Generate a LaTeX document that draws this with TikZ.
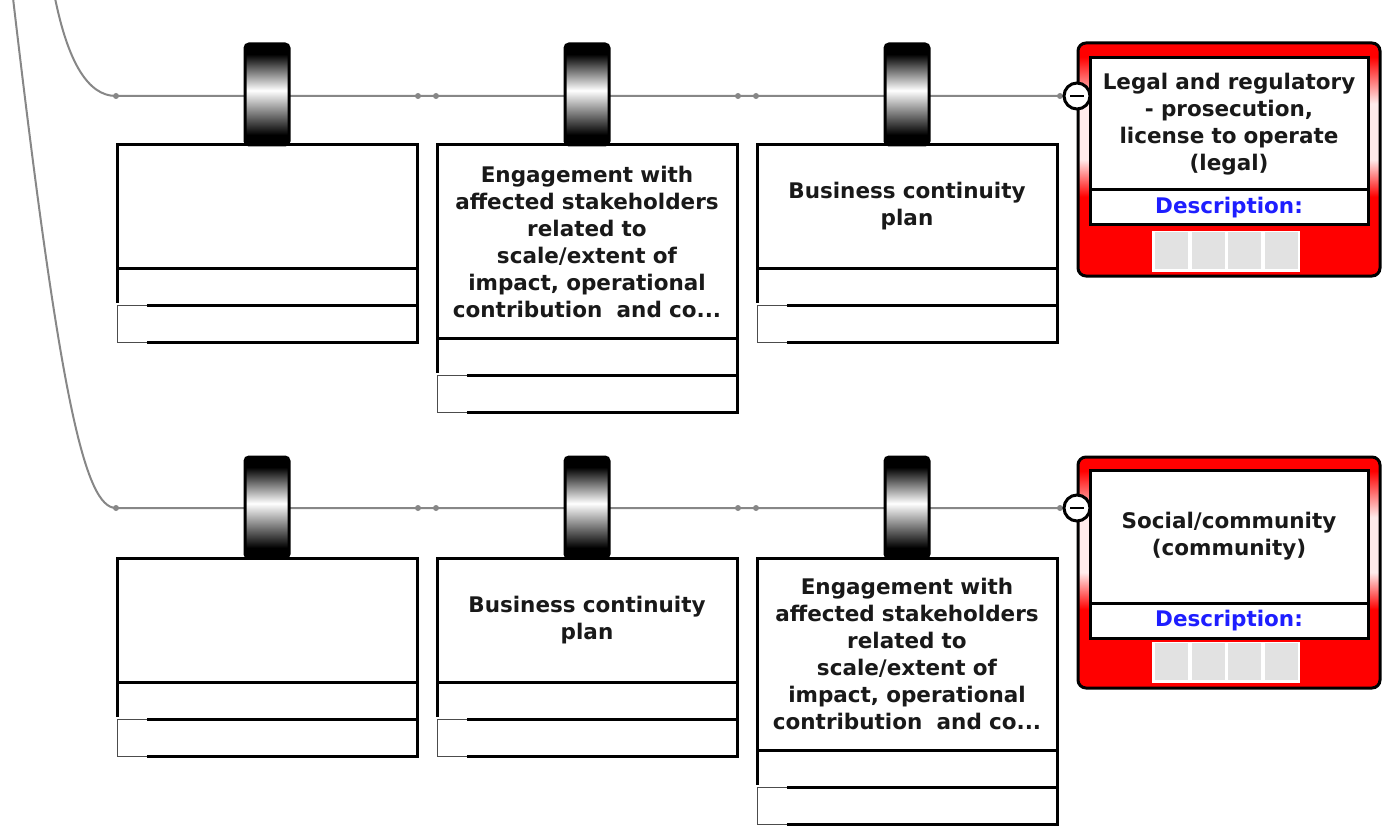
\documentclass[tikz,border=0pt]{standalone}
\usepackage{fontspec}
\setmainfont{DejaVu Sans}
\usetikzlibrary{positioning}
\definecolor{wiregrey}{RGB}{135,135,135}
\definecolor{cellgrey}{RGB}{226,226,226}
\definecolor{descblue}{RGB}{30,30,255}
\pgfdeclareverticalshading{redcard}{100bp}{color(0bp)=(red); color(25bp)=(red); color(42bp)=(red); color(50bp)=(red!8); color(62bp)=(red!8); color(72bp)=(red); color(100bp)=(red)}
\pgfdeclareverticalshading{padshade}{100bp}{color(0bp)=(black); color(30bp)=(black); color(52bp)=(white); color(70bp)=(black); color(100bp)=(black)}

\begin{document}
\begin{tikzpicture}[x=1pt,y=-1pt,
  wire/.style={draw=wiregrey,line width=2pt},
  knot/.style={circle,fill=wiregrey,inner sep=0pt,minimum size=6pt},
  card/.style={draw,line width=3pt,fill=white,outer sep=0pt,inner sep=0pt,
    minimum width=300pt,text width=296pt,align=center,text=black!90,
    font=\bfseries\fontsize{21.5}{27}\selectfont},
  strip/.style={draw,line width=3pt,fill=white,outer sep=0pt,
    minimum width=300pt,minimum height=37pt},
  tabline/.style={draw=black!70,line width=1pt,
    preaction={draw=white,line width=3.6pt}},
  pad/.style={draw,line width=3pt,rounded corners=4pt,shade,shading=padshade},
  minus/.style={circle,draw,line width=3pt,fill=white,minimum size=26pt,inner sep=0pt,
    path picture={\draw[line width=2.8pt] ([xshift=-7pt]path picture bounding box.center)
      -- ([xshift=7pt]path picture bounding box.center);}},
  risk/.style={draw,line width=3pt,rounded corners=8pt,shade,shading=redcard,outer sep=0pt,
    minimum width=302pt},
  risktitle/.style={draw,line width=3pt,fill=white,outer sep=0pt,inner sep=0pt,
    minimum width=278pt,text width=276pt,align=center,text=black!90,
    font=\bfseries\fontsize{21.5}{27}\selectfont},
  riskdesc/.style={draw,line width=3pt,fill=white,outer sep=0pt,inner sep=0pt,
    minimum width=278pt,minimum height=35pt,text=descblue,
    font=\bfseries\fontsize{21.5}{27}\selectfont}]
\useasboundingbox (0,0) rectangle (1383,826);

% wires
\coordinate (top1) at (55,-2);
\coordinate (top2) at (13,-2);
\node[knot] (k1a) at (116,96) {};
\node[knot] (k1b) at (418,96) {};
\node[knot] (k1c) at (436,96) {};
\node[knot] (k1d) at (738,96) {};
\node[knot] (k1e) at (756,96) {};
\node[knot] (k1f) at (1060,96) {};
\node[knot] (k2a) at (116,508) {};
\node[knot] (k2b) at (418,508) {};
\node[knot] (k2c) at (436,508) {};
\node[knot] (k2d) at (738,508) {};
\node[knot] (k2e) at (756,508) {};
\node[knot] (k2f) at (1060,508) {};
\coordinate (m1) at (1077,96);
\coordinate (m2) at (1077,508);
\draw[wire] (top1) .. controls (68,62) and (88,96) .. (k1a.center) -- (m1);
\draw[wire] (top2) .. controls (60,400) and (85,508) .. (k2a.center) -- (m2);

% controls
\node[card,minimum height=123pt,anchor=north west] (c11) at (117,145) {};
\node[card,minimum height=193pt,anchor=north west] (c12) at (437,145)
  {Engagement with\\affected stakeholders\\related to\\scale/extent of\\impact, operational\\contribution\ \ and co...};
\node[card,minimum height=123pt,anchor=north west] (c13) at (757,145) {Business continuity\\plan};
\node[card,minimum height=124pt,anchor=north west] (c21) at (117,558) {};
\node[card,minimum height=124pt,anchor=north west] (c22) at (437,558) {Business continuity\\plan};
\node[card,minimum height=192pt,anchor=north west] (c23) at (757,558)
  {Engagement with\\affected stakeholders\\related to\\scale/extent of\\impact, operational\\contribution\ \ and co...};
\foreach \c in {c11,c12,c13,c21,c22,c23}{
  \node[strip,below=0pt of \c] (\c-a) {};
  \node[strip,below=0pt of \c-a] (\c-b) {};
  \draw[tabline] ([xshift=30pt]\c-b.north west) -- (\c-b.north west)
    -- (\c-b.south west) -- ([xshift=30pt]\c-b.south west);
  \shade[pad] ([xshift=-22pt]\c.north) rectangle ([xshift=22pt,yshift=101pt]\c.north);
}

% risks
\node[risk,minimum height=233pt,anchor=north west] (r1) at (1078,43) {};
\node[risktitle,minimum height=132pt,anchor=north west] (r1t) at (1090,58)
  {Legal and regulatory\\- prosecution,\\license to operate\\(legal)};
\node[riskdesc,below=0pt of r1t] (r1d) {Description:};
\node[risk,minimum height=231pt,anchor=north west] (r2) at (1078,457) {};
\node[risktitle,minimum height=133pt,anchor=north west] (r2t) at (1090,470)
  {Social/community\\(community)};
\node[riskdesc,below=0pt of r2t] (r2d) {Description:};
\foreach \y in {231,642}{
  \fill[white] (1152,\y) rectangle (1300,\y+41);
  \foreach \i in {0,...,3}
    \fill[cellgrey] (1155+\i*36.5,\y+1) rectangle ++(33,37);
}
\node[minus] (n1) at (m1) {};
\node[minus] (n2) at (m2) {};
\end{tikzpicture}
\end{document}
